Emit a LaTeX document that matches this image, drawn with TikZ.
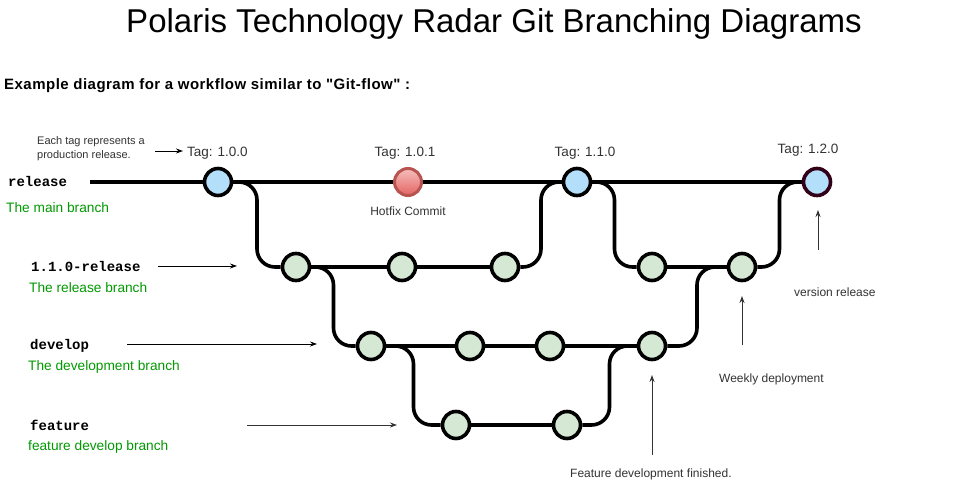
\documentclass[tikz,border=0pt]{standalone}
\usepackage{fontspec}
\setmainfont{Liberation Sans}[Ligatures=TeXOff]
\setmonofont{Liberation Mono}
\usetikzlibrary{calc,arrows.meta,backgrounds}

\definecolor{brgreen}{RGB}{0,153,0}
\definecolor{cblue}{RGB}{180,223,250}
\definecolor{cgreen}{RGB}{213,232,212}
\definecolor{credtop}{RGB}{246,190,188}
\definecolor{credbot}{RGB}{226,100,98}
\definecolor{credline}{RGB}{184,84,80}
\definecolor{cmaroon}{RGB}{51,0,26}
\definecolor{txt}{RGB}{51,51,51}

\begin{document}
\begin{tikzpicture}[x=1pt,y=-1pt,
  commit/.style={circle,draw=black,line width=3.6pt,minimum size=27pt,inner sep=0pt},
  bluec/.style={commit,fill=cblue},
  greenc/.style={commit,fill=cgreen},
  redc/.style={commit,draw=credline,line width=3pt,top color=credtop,bottom color=credbot},
  br/.style={line width=3.6pt,black,rounded corners=18pt},
  lbl/.style={inner sep=0pt,anchor=base west,text=txt},
  tagl/.style={inner sep=0pt,anchor=base,text=txt,font=\fontsize{13.5}{16}\selectfont},
  note/.style={inner sep=0pt,anchor=base west,text=txt,font=\fontsize{12}{14}\selectfont},
  brname/.style={inner sep=0pt,anchor=base west,text=black,font=\ttfamily\bfseries\fontsize{14}{16}\selectfont},
  brdesc/.style={inner sep=0pt,anchor=base west,text=brgreen,font=\fontsize{13.7}{16}\selectfont},
  arr/.style={-{Stealth[length=7pt,width=5pt]},line width=0.9pt,txt},
]
\useasboundingbox (0,0) rectangle (962,492);
\begin{scope}[on background layer]
  \fill[white] (0,0) rectangle (962,492);
\end{scope}

% texts
\node[inner sep=0pt,anchor=base,font=\fontsize{33}{38}\selectfont] (title) at (494,33) {Polaris Technology Radar Git Branching Diagrams};
\node[inner sep=0pt,anchor=base west,font=\bfseries\fontsize{15}{18}\selectfont\addfontfeature{LetterSpace=3.2}] (sub) at (4,90) {Example diagram for a workflow similar to "Git-flow" :};

\node[lbl,font=\fontsize{11}{13}\selectfont] (each1) at (37,145) {Each tag represents a};
\node[lbl,font=\fontsize{11}{13}\selectfont] (each2) at (37,159) {production release.};

\node[tagl,anchor=base west] (t100) at (187,157) {Tag: 1.0.0};
\node[tagl] (t101) at (405,157) {Tag: 1.0.1};
\node[tagl] (t110) at (585,157) {Tag: 1.1.0};
\node[tagl] (t120) at (808,154) {Tag: 1.2.0};
\node[note,anchor=base] (hotfix) at (408,215) {Hotfix Commit};

\node[brname] (nrel) at (8,186) {release};
\node[brdesc] (drel) at (6,212) {The main branch};
\node[brname] (nrb) at (31,271) {1.1.0-release};
\node[brdesc] (drb) at (29,292) {The release branch};
\node[brname] (ndev) at (30,349) {develop};
\node[brdesc] (ddev) at (28,370) {The development branch};
\node[brname] (nfeat) at (30,430) {feature};
\node[brdesc] (dfeat) at (28,450) {feature develop branch};

\node[note] (vrel) at (794,296) {version release};
\node[note] (weekly) at (719,382) {Weekly deployment};
\node[note] (fdone) at (570,477) {Feature development finished.};

% commits
\node[bluec] (R1) at (218,182) {};
\node[redc]  (R2) at (408,182) {};
\node[bluec] (R3) at (577,182) {};
\node[bluec,draw=cmaroon] (R4) at (817,182) {};

\node[greenc] (L1) at (296,267) {};
\node[greenc] (L2) at (402,267) {};
\node[greenc] (L3) at (505,267) {};
\node[greenc] (L4) at (652,267) {};
\node[greenc] (L5) at (742,267) {};

\node[greenc] (D1) at (371,346) {};
\node[greenc] (D2) at (470,346) {};
\node[greenc] (D3) at (550,346) {};
\node[greenc] (D4) at (652,346) {};

\node[greenc] (F1) at (456,425) {};
\node[greenc] (F2) at (567,425) {};

\coordinate (relstart) at (90,182);

% branch lines
\begin{scope}[on background layer]
  \draw[br] (relstart) -- (R4.west);
  \draw[br] (L1) -- (L3);
  \draw[br] (L4) -- (L5);
  \draw[br] (D1) -- (D4);
  \draw[br] (F1) -- (F2);
  \draw[br] (R1.east) -| ($(R1.east)!.5!(L1.west)$) |- (L1.west);
  \draw[br] (L1.east) -| ($(L1.east)!.5!(D1.west)$) |- (D1.west);
  \draw[br] (L3.east) -| ($(L3.east)!.5!(R3.west)$) |- (R3.west);
  \draw[br] (R3.east) -| ($(R3.east)!.5!(L4.west)$) |- (L4.west);
  \draw[br] (D4.east) -| ($(D4.east)!.5!(L5.west)$) |- (L5.west);
  \draw[br] (L5.east) -| ($(L5.east)!.5!(R4.west)$) |- (R4.west);
  \draw[br] (D1.east) -| ($(D1.east)!.5!(F1.west)$) |- (F1.west);
  \draw[br] (F2.east) -| ($(F2.east)!.5!(D4.west)$) |- (D4.west);
\end{scope}

% annotation arrows
\coordinate (a1s) at (155,151); \coordinate (a1e) at (183,151);
\draw[arr,black] (a1s) -- (a1e);
\coordinate (a2s) at (158,266); \coordinate (a2e) at (237,266);
\draw[arr,black] (a2s) -- (a2e);
\coordinate (a3s) at (127,344); \coordinate (a3e) at (317,344);
\draw[arr,black] (a3s) -- (a3e);
\coordinate (a4s) at (247,425); \coordinate (a4e) at (397,425);
\draw[arr] (a4s) -- (a4e);
\coordinate (a5s) at (818,250); \coordinate (a5e) at (818,210);
\draw[arr] (a5s) -- (a5e);
\coordinate (a6s) at (742,345); \coordinate (a6e) at (742,296);
\draw[arr] (a6s) -- (a6e);
\coordinate (a7s) at (652,455); \coordinate (a7e) at (652,375);
\draw[arr] (a7s) -- (a7e);
\end{tikzpicture}
\end{document}
